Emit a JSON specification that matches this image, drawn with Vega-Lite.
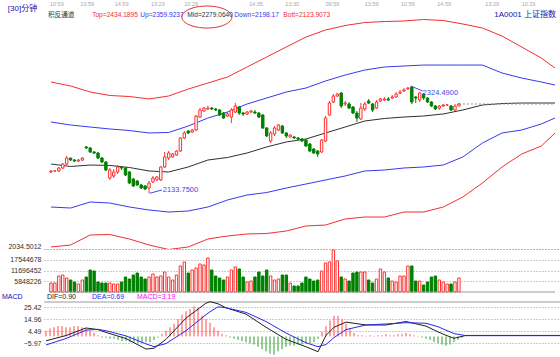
{
"$schema":"https://vega.github.io/schema/vega-lite/v6.json",
"autosize":{"type":"pad"},
"padding":0,
"background":"#ffffff",
"spacing":0,
"bounds":"flush",
"config":{"view":{"stroke":null},"font":"Liberation Sans","axis":{"domain":false,"ticks":false,"labelFont":"Liberation Sans","labelFontSize":7,"labelColor":"#303030","labelPadding":3,"grid":true,"gridColor":"#9a9a9a","gridDash":[1,2],"gridWidth":1,"minExtent":44,"maxExtent":44}},
"datasets":{
"candles":[
{"i":0,"o":2171.5,"h":2175.0,"l":2169.7,"c":2173.3,"v":4896000,"m":5},
{"i":1,"o":2173.3,"h":2175.0,"l":2171.5,"c":2173.3,"v":4896000,"m":7},
{"i":2,"o":2173.3,"h":2180.4,"l":2171.5,"c":2178.6,"v":8704000,"m":8},
{"i":3,"o":2178.6,"h":2187.5,"l":2176.8,"c":2185.7,"v":9248000,"m":9},
{"i":4,"o":2185.7,"h":2199.9,"l":2183.9,"c":2196.4,"v":7616000,"m":9},
{"i":5,"o":2196.4,"h":2196.4,"l":2191.0,"c":2192.8,"v":6528000,"m":8},
{"i":6,"o":2192.8,"h":2194.6,"l":2189.3,"c":2191.0,"v":5440000,"m":8},
{"i":7,"o":2191.0,"h":2194.6,"l":2189.3,"c":2192.8,"v":4352000,"m":9},
{"i":8,"o":2192.8,"h":2198.2,"l":2191.0,"c":2196.4,"v":6528000,"m":9},
{"i":9,"o":2216.0,"h":2217.7,"l":2212.4,"c":2214.2,"v":8160000,"m":8},
{"i":10,"o":2214.2,"h":2216.0,"l":2205.3,"c":2207.1,"v":11968000,"m":7},
{"i":11,"o":2207.1,"h":2208.8,"l":2203.5,"c":2205.3,"v":11424000,"m":5},
{"i":12,"o":2205.3,"h":2207.1,"l":2194.6,"c":2196.4,"v":5440000,"m":3},
{"i":13,"o":2196.4,"h":2198.2,"l":2187.5,"c":2189.3,"v":4896000,"m":1},
{"i":14,"o":2189.3,"h":2191.0,"l":2173.3,"c":2175.0,"v":4896000,"m":-1},
{"i":15,"o":2160.8,"h":2178.6,"l":2157.3,"c":2175.0,"v":4896000,"m":-1},
{"i":16,"o":2164.4,"h":2176.8,"l":2160.8,"c":2171.5,"v":4352000,"m":-2},
{"i":17,"o":2171.5,"h":2183.9,"l":2167.9,"c":2180.4,"v":4352000,"m":-2},
{"i":18,"o":2180.4,"h":2182.2,"l":2175.0,"c":2178.6,"v":5440000,"m":-3},
{"i":19,"o":2178.6,"h":2180.4,"l":2164.4,"c":2166.1,"v":8160000,"m":-4},
{"i":20,"o":2171.5,"h":2173.3,"l":2150.1,"c":2151.9,"v":7072000,"m":-4},
{"i":21,"o":2159.0,"h":2160.8,"l":2144.8,"c":2146.6,"v":9248000,"m":-5},
{"i":22,"o":2155.5,"h":2157.3,"l":2146.6,"c":2148.4,"v":10336000,"m":-5},
{"i":23,"o":2148.4,"h":2150.1,"l":2141.2,"c":2143.0,"v":8160000,"m":-6},
{"i":24,"o":2146.6,"h":2148.4,"l":2139.5,"c":2141.2,"v":7072000,"m":-6},
{"i":25,"o":2143.0,"h":2155.5,"l":2133.75,"c":2151.9,"v":8160000,"m":-5},
{"i":26,"o":2153.7,"h":2164.4,"l":2151.9,"c":2160.8,"v":9792000,"m":-5},
{"i":27,"o":2157.3,"h":2164.4,"l":2155.5,"c":2162.6,"v":8160000,"m":-3},
{"i":28,"o":2157.3,"h":2182.2,"l":2155.5,"c":2180.4,"v":8704000,"m":-1},
{"i":29,"o":2180.4,"h":2207.1,"l":2178.6,"c":2198.2,"v":10880000,"m":2},
{"i":30,"o":2196.4,"h":2208.8,"l":2192.8,"c":2205.3,"v":8160000,"m":5},
{"i":31,"o":2198.2,"h":2205.3,"l":2196.4,"c":2203.5,"v":6528000,"m":8},
{"i":32,"o":2201.7,"h":2210.6,"l":2199.9,"c":2208.8,"v":9248000,"m":11},
{"i":33,"o":2208.8,"h":2233.7,"l":2207.1,"c":2232.0,"v":14145000,"m":15},
{"i":34,"o":2232.0,"h":2244.4,"l":2230.2,"c":2240.9,"v":16321000,"m":19},
{"i":35,"o":2244.4,"h":2246.2,"l":2239.1,"c":2240.9,"v":10336000,"m":22},
{"i":36,"o":2242.6,"h":2248.0,"l":2240.9,"c":2246.2,"v":11968000,"m":24},
{"i":37,"o":2246.2,"h":2272.9,"l":2244.4,"c":2271.1,"v":13057000,"m":26},
{"i":38,"o":2269.3,"h":2285.3,"l":2267.5,"c":2281.8,"v":15233000,"m":25},
{"i":39,"o":2280.0,"h":2287.1,"l":2278.2,"c":2285.3,"v":14689000,"m":18},
{"i":40,"o":2283.6,"h":2288.9,"l":2281.8,"c":2285.3,"v":18497000,"m":15},
{"i":41,"o":2285.3,"h":2287.1,"l":2281.8,"c":2283.6,"v":11968000,"m":12},
{"i":42,"o":2283.6,"h":2285.3,"l":2280.0,"c":2281.8,"v":8704000,"m":8},
{"i":43,"o":2281.8,"h":2283.6,"l":2271.1,"c":2272.9,"v":7616000,"m":5},
{"i":44,"o":2276.4,"h":2278.2,"l":2265.8,"c":2267.5,"v":6528000,"m":2},
{"i":45,"o":2271.1,"h":2278.2,"l":2269.3,"c":2274.7,"v":8160000,"m":1},
{"i":46,"o":2269.3,"h":2285.3,"l":2258.7,"c":2281.8,"v":11968000,"m":-1},
{"i":47,"o":2278.2,"h":2294.2,"l":2276.4,"c":2288.9,"v":13601000,"m":-2},
{"i":48,"o":2287.1,"h":2288.9,"l":2272.9,"c":2276.4,"v":12513000,"m":-3},
{"i":49,"o":2276.4,"h":2278.2,"l":2271.1,"c":2274.7,"v":8160000,"m":-4},
{"i":50,"o":2274.7,"h":2280.0,"l":2272.9,"c":2278.2,"v":5440000,"m":-5},
{"i":51,"o":2278.2,"h":2281.8,"l":2276.4,"c":2280.0,"v":5984000,"m":-6},
{"i":52,"o":2278.2,"h":2281.8,"l":2274.7,"c":2276.4,"v":8160000,"m":-7},
{"i":53,"o":2276.4,"h":2278.2,"l":2267.5,"c":2269.3,"v":10880000,"m":-9},
{"i":54,"o":2272.9,"h":2274.7,"l":2248.0,"c":2249.8,"v":8704000,"m":-11},
{"i":55,"o":2249.8,"h":2251.5,"l":2233.7,"c":2235.5,"v":11968000,"m":-13},
{"i":56,"o":2226.6,"h":2244.4,"l":2223.1,"c":2240.9,"v":8704000,"m":-15},
{"i":57,"o":2239.1,"h":2253.3,"l":2235.5,"c":2249.8,"v":6528000,"m":-16},
{"i":58,"o":2246.2,"h":2256.9,"l":2244.4,"c":2255.1,"v":7072000,"m":-13},
{"i":59,"o":2253.3,"h":2255.1,"l":2239.1,"c":2240.9,"v":9248000,"m":-11},
{"i":60,"o":2240.9,"h":2242.6,"l":2232.0,"c":2235.5,"v":9248000,"m":-9},
{"i":61,"o":2233.7,"h":2239.1,"l":2232.0,"c":2237.3,"v":4896000,"m":-8},
{"i":62,"o":2233.7,"h":2235.5,"l":2230.2,"c":2232.0,"v":3264000,"m":-8},
{"i":63,"o":2232.0,"h":2233.7,"l":2228.4,"c":2230.2,"v":3264000,"m":-7},
{"i":64,"o":2230.2,"h":2232.0,"l":2224.9,"c":2226.6,"v":4896000,"m":-7},
{"i":65,"o":2228.4,"h":2230.2,"l":2216.0,"c":2217.7,"v":8160000,"m":-6},
{"i":66,"o":2221.3,"h":2223.1,"l":2207.1,"c":2208.8,"v":7072000,"m":-6},
{"i":67,"o":2212.4,"h":2214.2,"l":2203.5,"c":2205.3,"v":5984000,"m":-5},
{"i":68,"o":2208.8,"h":2210.6,"l":2198.2,"c":2203.5,"v":6528000,"m":-2},
{"i":69,"o":2207.1,"h":2230.2,"l":2205.3,"c":2228.4,"v":11424000,"m":4},
{"i":70,"o":2226.6,"h":2271.1,"l":2224.9,"c":2267.5,"v":15777000,"m":9},
{"i":71,"o":2272.9,"h":2297.8,"l":2271.1,"c":2294.2,"v":16321000,"m":14},
{"i":72,"o":2296.0,"h":2310.2,"l":2294.2,"c":2306.7,"v":22849000,"m":18},
{"i":73,"o":2306.7,"h":2312.0,"l":2304.9,"c":2310.2,"v":16865000,"m":18},
{"i":74,"o":2312.0,"h":2313.8,"l":2285.3,"c":2288.9,"v":8160000,"m":15},
{"i":75,"o":2292.5,"h":2297.8,"l":2288.9,"c":2294.2,"v":7072000,"m":11},
{"i":76,"o":2292.5,"h":2296.0,"l":2283.6,"c":2285.3,"v":5984000,"m":7},
{"i":77,"o":2287.1,"h":2288.9,"l":2274.7,"c":2276.4,"v":10336000,"m":3},
{"i":78,"o":2276.4,"h":2280.0,"l":2260.4,"c":2267.5,"v":10880000,"m":1},
{"i":79,"o":2265.8,"h":2294.2,"l":2264.0,"c":2285.3,"v":10880000,"m":1},
{"i":80,"o":2283.6,"h":2296.0,"l":2280.0,"c":2292.5,"v":10880000,"m":0.5},
{"i":81,"o":2297.8,"h":2301.4,"l":2292.5,"c":2294.2,"v":6528000,"m":1},
{"i":82,"o":2292.5,"h":2294.2,"l":2278.2,"c":2281.8,"v":4896000,"m":0.5},
{"i":83,"o":2285.3,"h":2299.6,"l":2283.6,"c":2296.0,"v":7072000,"m":1},
{"i":84,"o":2297.8,"h":2303.1,"l":2296.0,"c":2301.4,"v":12513000,"m":1},
{"i":85,"o":2299.6,"h":2304.9,"l":2297.8,"c":2301.4,"v":10880000,"m":2},
{"i":86,"o":2301.4,"h":2304.9,"l":2297.8,"c":2299.6,"v":7616000,"m":1},
{"i":87,"o":2303.1,"h":2308.5,"l":2301.4,"c":2304.9,"v":5984000,"m":1},
{"i":88,"o":2304.9,"h":2313.8,"l":2303.1,"c":2310.2,"v":5440000,"m":2},
{"i":89,"o":2312.0,"h":2317.4,"l":2310.2,"c":2313.8,"v":8704000,"m":2},
{"i":90,"o":2315.6,"h":2320.9,"l":2313.8,"c":2317.4,"v":8704000,"m":3},
{"i":91,"o":2319.1,"h":2322.7,"l":2317.4,"c":2320.9,"v":14145000,"m":2},
{"i":92,"o":2322.7,"h":2324.49,"l":2292.5,"c":2296.0,"v":14145000,"m":1},
{"i":93,"o":2304.9,"h":2306.7,"l":2294.2,"c":2303.1,"v":5984000,"m":0.5},
{"i":94,"o":2299.6,"h":2313.8,"l":2296.0,"c":2312.0,"v":5984000,"m":-1},
{"i":95,"o":2310.2,"h":2312.0,"l":2299.6,"c":2303.1,"v":3808000,"m":-2},
{"i":96,"o":2303.1,"h":2304.9,"l":2294.2,"c":2296.0,"v":5440000,"m":-3},
{"i":97,"o":2296.0,"h":2297.8,"l":2287.1,"c":2288.9,"v":8160000,"m":-5},
{"i":98,"o":2288.9,"h":2290.7,"l":2281.8,"c":2283.6,"v":8704000,"m":-6},
{"i":99,"o":2285.3,"h":2290.7,"l":2281.8,"c":2288.9,"v":6528000,"m":-7},
{"i":100,"o":2288.9,"h":2292.5,"l":2287.1,"c":2290.7,"v":5440000,"m":-8},
{"i":101,"o":2290.7,"h":2292.5,"l":2288.9,"c":2290.7,"v":4352000,"m":-7},
{"i":102,"o":2288.9,"h":2290.7,"l":2280.0,"c":2281.8,"v":4352000,"m":-5},
{"i":103,"o":2281.8,"h":2292.5,"l":2280.0,"c":2288.9,"v":5440000,"m":-3},
{"i":104,"o":2288.9,"h":2294.2,"l":2288.9,"c":2292.5,"v":7616000,"m":-1}
],
"bands":[
{"i":0,"top":2331.6,"up":2260.4,"mid":2185.7,"down":2109.2,"bott":2038.1},
{"i":5,"top":2324.5,"up":2255.1,"mid":2181.3,"down":2107.4,"bott":2041.6},
{"i":10,"top":2313.8,"up":2251.5,"mid":2183.9,"down":2118.1,"bott":2059.4},
{"i":15,"top":2307.6,"up":2248.0,"mid":2183.1,"down":2116.3,"bott":2060.3},
{"i":20,"top":2305.8,"up":2245.3,"mid":2179.5,"down":2109.2,"bott":2052.3},
{"i":25,"top":2301.4,"up":2240.9,"mid":2173.3,"down":2103.9,"bott":2041.6},
{"i":30,"top":2306.7,"up":2241.8,"mid":2171.5,"down":2100.3,"bott":2033.6},
{"i":35,"top":2319.1,"up":2253.3,"mid":2180.4,"down":2102.1,"bott":2038.1},
{"i":40,"top":2329.8,"up":2267.5,"mid":2192.8,"down":2109.2,"bott":2052.3},
{"i":45,"top":2340.5,"up":2278.2,"mid":2197.3,"down":2121.7,"bott":2057.6},
{"i":50,"top":2358.3,"up":2292.5,"mid":2205.3,"down":2130.6,"bott":2061.2},
{"i":55,"top":2376.1,"up":2303.1,"mid":2216.0,"down":2135.0,"bott":2062.1},
{"i":60,"top":2393.9,"up":2313.8,"mid":2224.9,"down":2143.0,"bott":2066.5},
{"i":65,"top":2411.6,"up":2320.9,"mid":2230.2,"down":2150.1,"bott":2075.4},
{"i":70,"top":2424.1,"up":2333.4,"mid":2240.9,"down":2157.3,"bott":2077.2},
{"i":75,"top":2432.1,"up":2344.0,"mid":2251.5,"down":2164.4,"bott":2087.9},
{"i":80,"top":2437.4,"up":2352.9,"mid":2262.2,"down":2173.3,"bott":2091.4},
{"i":85,"top":2439.2,"up":2358.3,"mid":2266.7,"down":2175.0,"bott":2091.4},
{"i":90,"top":2440.1,"up":2360.1,"mid":2269.3,"down":2178.6,"bott":2100.3},
{"i":95,"top":2442.8,"up":2361.8,"mid":2271.1,"down":2180.4,"bott":2100.3},
{"i":100,"top":2441.0,"up":2361.8,"mid":2274.7,"down":2183.9,"bott":2109.2},
{"i":105,"top":2434.8,"up":2361.8,"mid":2281.8,"down":2198.2,"bott":2127.0},
{"i":110,"top":2427.7,"up":2361.8,"mid":2290.7,"down":2223.1,"bott":2151.9},
{"i":115,"top":2413.4,"up":2347.6,"mid":2293.3,"down":2240.9,"bott":2180.4},
{"i":120,"top":2393.9,"up":2338.7,"mid":2294.2,"down":2246.2,"bott":2203.5},
{"i":125,"top":2374.3,"up":2331.6,"mid":2294.2,"down":2256.9,"bott":2217.7},
{"i":128.5,"top":2356.5,"up":2326.3,"mid":2294.2,"down":2267.5,"bott":2240.9}
],
"macdlines":[
{"i":0,"dif":-3.8,"dea":-7.4},{"i":5,"dif":0.8,"dea":-1.8},{"i":10,"dif":7.4,"dea":5.5},{"i":13,"dif":6.0,"dea":6.2},{"i":15,"dif":3.5,"dea":5.0},{"i":20,"dif":-1.8,"dea":0.5},{"i":25,"dif":-11.0,"dea":-6.5},{"i":27,"dif":-10.3,"dea":-8.9},{"i":30,"dif":-2.5,"dea":-6.2},{"i":35,"dif":16.0,"dea":5.0},{"i":40,"dif":29.0,"dea":19.0},{"i":41,"dif":30.3,"dea":21.5},{"i":43,"dif":28.5,"dea":25.9},{"i":45,"dif":25.0,"dea":25.0},{"i":50,"dif":19.5,"dea":21.0},{"i":55,"dif":8.0,"dea":13.0},{"i":60,"dif":-2.5,"dea":3.0},{"i":65,"dif":-9.0,"dea":-5.5},{"i":68,"dif":-13.3,"dea":-8.9},{"i":70,"dif":1.0,"dea":-7.0},{"i":72,"dif":8.0,"dea":-1.0},{"i":75,"dif":12.5,"dea":6.0},{"i":80,"dif":10.0,"dea":10.0},{"i":85,"dif":10.0,"dea":10.9},{"i":90,"dif":13.0,"dea":12.0},{"i":95,"dif":9.0,"dea":11.5},{"i":98,"dif":4.0,"dea":8.5},{"i":100,"dif":1.0,"dea":5.5},{"i":102,"dif":-1.6,"dea":2.5},{"i":105,"dif":0.9,"dea":0.69},{"i":110,"dif":0.9,"dea":0.69},{"i":128.5,"dif":0.9,"dea":0.69}
],
"annolines":[{"i":25.2,"i2":28.3,"p":2133.75,"p2":2139.5},{"i":91.7,"i2":94.75,"p":2324.49,"p2":2315.6}],
"annotext":[{"i":28.5,"p":2139.5,"t":"2133.7500"},{"i":94.75,"p":2311.5,"t":"2324.4900"}],
"lastclose":[{"i":104,"i2":128.5,"p":2292.5}],
"header":[
{"i":-0.75,"p":2451.7,"t":"积反通道","k":"mid"},
{"i":10.5,"p":2451.7,"t":"Top=2434.1895","k":"top"},
{"i":22.75,"p":2451.7,"t":"Up=2359.9237","k":"up"},
{"i":34.75,"p":2451.7,"t":"Mid=2279.0640","k":"mid"},
{"i":46.75,"p":2451.7,"t":"Down=2198.17","k":"down"},
{"i":59.25,"p":2451.7,"t":"Bott=2123.9073","k":"bott"}
],
"corner":[{"i":-11,"p":2462.0,"t":"[30]分钟","k":"navy"},{"i":113,"p":2451.7,"t":"1A0001 上证指数","k":"navy"}],
"times":[
{"i":1.5,"p":2471.2,"t":"10:59"},{"i":9.25,"p":2471.2,"t":"10:59"},{"i":18,"p":2471.2,"t":"14:59"},{"i":27.25,"p":2471.2,"t":"13:29"},{"i":35.75,"p":2471.2,"t":"10:29"},{"i":52.25,"p":2471.2,"t":"14:35"},{"i":61.5,"p":2471.2,"t":"13:30"},{"i":71.75,"p":2471.2,"t":"09:59"},{"i":81.75,"p":2471.2,"t":"13:59"},{"i":91,"p":2471.2,"t":"10:59"},{"i":100.25,"p":2471.2,"t":"14:59"},{"i":112.5,"p":2471.2,"t":"13:29"},{"i":121.75,"p":2471.2,"t":"10:29"}
],
"ellipse":[{"i":39.75,"p":2447.2}],
"volbase":[{"i":-0.5,"i2":128.5,"v":0}],
"macdsep":[{"i":-0.5,"i2":128.5,"p":30.04}],
"macdhead":[{"i":-11,"p":34.4,"t":"MACD","k":"navy"},{"i":0.25,"p":34.4,"t":"DIF=0.90","k":"dif"},{"i":11.5,"p":34.4,"t":"DEA=0.69","k":"dea"},{"i":22.75,"p":34.4,"t":"MACD=3.19","k":"mag"}]
},
"vconcat":[
{
"width":516,"height":249,
"resolve":{"axis":{"y":"independent","x":"independent"}},
"layer":[
{"data":{"name":"bands"},"transform":[{"fold":["top","up","mid","down","bott"],"as":["band","value"]}],
 "mark":{"type":"line","strokeWidth":1,"clip":true},
 "encoding":{
  "x":{"field":"i","type":"quantitative","scale":{"domain":[-0.5,128.5],"nice":false,"zero":false},"axis":null},
  "y":{"field":"value","type":"quantitative","scale":{"domain":[2034.5012,2477.5],"nice":false,"zero":false},"axis":{"values":[2034.5012],"format":".4f","labelBaseline":"bottom","labelFlush":false,"title":null}},
  "color":{"field":"band","type":"nominal","scale":{"domain":["top","up","mid","down","bott","navy","dif","dea","mag"],"range":["#f03030","#3838f0","#303030","#3838f0","#f03030","#1010b0","#202020","#2828f0","#ff00ff"]},"legend":null},
  "detail":{"field":"band"}}},
{"data":{"name":"lastclose"},"mark":{"type":"rule","color":"#9a9a9a","strokeWidth":1,"strokeDash":[2,2]},
 "encoding":{"x":{"field":"i","type":"quantitative","axis":null},"x2":{"field":"i2"},"y":{"field":"p","type":"quantitative","axis":null}}},
{"data":{"name":"candles"},"mark":{"type":"rule","strokeWidth":1},
 "encoding":{"x":{"field":"i","type":"quantitative","axis":null},"y":{"field":"l","type":"quantitative","axis":null},"y2":{"field":"h"},
  "color":{"condition":{"test":"datum.c >= datum.o","value":"#ff3030"},"value":"#008000"}}},
{"data":{"name":"candles"},"mark":{"type":"bar","size":2.4,"strokeWidth":1},
 "encoding":{"x":{"field":"i","type":"quantitative","axis":null},"y":{"field":"o","type":"quantitative","axis":null},"y2":{"field":"c"},
  "fill":{"condition":{"test":"datum.c >= datum.o","value":"#ffffff"},"value":"#008000"},
  "stroke":{"condition":{"test":"datum.c >= datum.o","value":"#ff3030"},"value":"#008000"}}},
{"data":{"name":"annolines"},"mark":{"type":"rule","color":"#4646e6","strokeWidth":1},
 "encoding":{"x":{"field":"i","type":"quantitative","axis":null},"x2":{"field":"i2"},"y":{"field":"p","type":"quantitative","axis":null},"y2":{"field":"p2"}}},
{"data":{"name":"annotext"},"mark":{"type":"text","align":"left","baseline":"middle","fontSize":7.5,"color":"#4646e6","font":"Liberation Sans"},
 "encoding":{"x":{"field":"i","type":"quantitative","axis":null},"y":{"field":"p","type":"quantitative","axis":null},"text":{"field":"t"}}},
{"data":{"name":"header"},"mark":{"type":"text","align":"left","baseline":"middle","fontSize":6.6,"font":"Liberation Sans, Noto Sans CJK SC"},
 "encoding":{"x":{"field":"i","type":"quantitative","axis":null},"y":{"field":"p","type":"quantitative","axis":null},"text":{"field":"t"},
  "color":{"field":"k","type":"nominal","scale":{"domain":["top","up","mid","down","bott","navy","dif","dea","mag"],"range":["#f03030","#3838f0","#303030","#3838f0","#f03030","#1010b0","#202020","#2828f0","#ff00ff"]},"legend":null}}},
{"data":{"name":"corner"},"mark":{"type":"text","align":"left","baseline":"middle","fontSize":8,"font":"Liberation Sans, Noto Sans CJK SC"},
 "encoding":{"x":{"field":"i","type":"quantitative","axis":null},"y":{"field":"p","type":"quantitative","axis":null},"text":{"field":"t"},
  "color":{"field":"k","type":"nominal","scale":{"domain":["top","up","mid","down","bott","navy","dif","dea","mag"],"range":["#f03030","#3838f0","#303030","#3838f0","#f03030","#1010b0","#202020","#2828f0","#ff00ff"]},"legend":null}}},
{"data":{"name":"times"},"mark":{"type":"text","align":"center","baseline":"middle","fontSize":5.5,"color":"#a8a8a8","font":"Liberation Sans"},
 "encoding":{"x":{"field":"i","type":"quantitative","axis":null},"y":{"field":"p","type":"quantitative","axis":null},"text":{"field":"t"}}},
{"data":{"name":"ellipse"},"mark":{"type":"point","shape":"M-1,0A1,0.44,0,1,1,1,0A1,0.44,0,1,1,-1,0Z","size":2500,"filled":false,"stroke":"#e03030","strokeWidth":1,"opacity":1},
 "encoding":{"x":{"field":"i","type":"quantitative","axis":null},"y":{"field":"p","type":"quantitative","axis":null}}}
]
},
{
"width":516,"height":43,
"resolve":{"axis":{"y":"independent","x":"independent"}},
"layer":[
{"data":{"name":"candles"},"mark":{"type":"bar","size":2.4,"strokeWidth":1},
 "encoding":{
  "x":{"field":"i","type":"quantitative","scale":{"domain":[-0.5,128.5],"nice":false,"zero":false},"axis":null},
  "y":{"field":"v","type":"quantitative","scale":{"domain":[0,23392904],"nice":false},"axis":{"values":[5848226,11696452,17544678,23392904],"format":"d","labelExpr":"datum.value > 20000000 ? '' : datum.label","title":null}},
  "fill":{"condition":{"test":"datum.c >= datum.o","value":"#ffffff"},"value":"#008000"},
  "stroke":{"condition":{"test":"datum.c >= datum.o","value":"#ff3030"},"value":"#008000"}}},
{"data":{"name":"volbase"},"mark":{"type":"rule","color":"#9a9a9a","strokeWidth":1},
 "encoding":{"x":{"field":"i","type":"quantitative","axis":null},"x2":{"field":"i2"},"y":{"field":"v","type":"quantitative","axis":null}}}
]
},
{
"width":516,"height":65,
"resolve":{"axis":{"y":"independent","x":"independent"}},
"layer":[
{"data":{"name":"candles"},"mark":{"type":"rule","strokeWidth":1},
 "encoding":{
  "x":{"field":"i","type":"quantitative","scale":{"domain":[-0.5,128.5],"nice":false,"zero":false},"axis":null},
  "y":{"field":"m","type":"quantitative","scale":{"domain":[-17.91,38.76],"nice":false,"zero":false},"axis":{"values":[-5.97,4.49,14.96,25.42],"format":".2f","title":null}},
  "y2":{"datum":0},
  "color":{"condition":{"test":"datum.m >= 0","value":"#ff4848"},"value":"#2e9a2e"}}},
{"data":{"name":"macdsep"},"mark":{"type":"rule","color":"#9a9a9a","strokeWidth":1},
 "encoding":{"x":{"field":"i","type":"quantitative","axis":null},"x2":{"field":"i2"},"y":{"field":"p","type":"quantitative","axis":null}}},
{"data":{"name":"macdlines"},"transform":[{"fold":["dif","dea"],"as":["key","value"]}],"mark":{"type":"line","strokeWidth":1},
 "encoding":{"x":{"field":"i","type":"quantitative","axis":null},"y":{"field":"value","type":"quantitative","axis":null},
  "color":{"field":"key","type":"nominal","scale":{"domain":["top","up","mid","down","bott","navy","dif","dea","mag"],"range":["#f03030","#3838f0","#303030","#3838f0","#f03030","#1010b0","#202020","#2828f0","#ff00ff"]},"legend":null},"detail":{"field":"key"}}},
{"data":{"name":"macdhead"},"mark":{"type":"text","align":"left","baseline":"middle","fontSize":7,"font":"Liberation Sans"},
 "encoding":{"x":{"field":"i","type":"quantitative","axis":null},"y":{"field":"p","type":"quantitative","axis":null},"text":{"field":"t"},
  "color":{"field":"k","type":"nominal","scale":{"domain":["top","up","mid","down","bott","navy","dif","dea","mag"],"range":["#f03030","#3838f0","#303030","#3838f0","#f03030","#1010b0","#202020","#2828f0","#ff00ff"]},"legend":null}}}
]
}
]
}
